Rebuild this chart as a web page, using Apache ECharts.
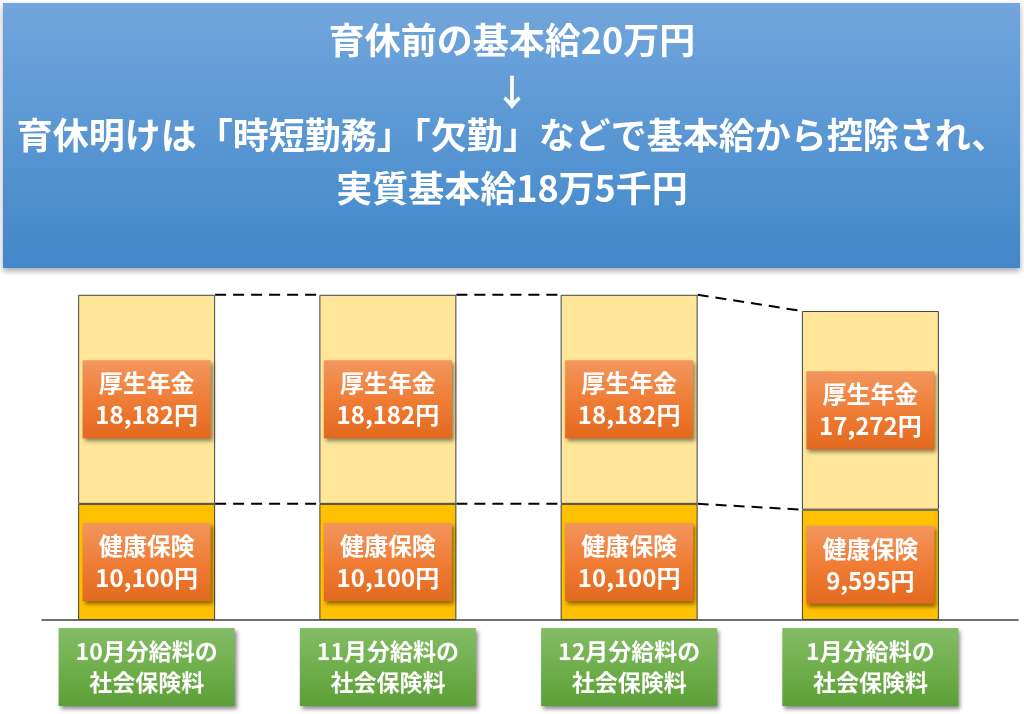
<!DOCTYPE html>
<html>
<head>
<meta charset="utf-8">
<script src="https://cdn.jsdelivr.net/npm/echarts@6/dist/echarts.min.js"></script>
<style>
  html, body { margin: 0; padding: 0; background: #fff; }
  #main { width: 1024px; height: 714px; }
</style>
</head>
<body>
<div id="main"></div>
<script>
// データ
var categories = ['10月分給料の\n社会保険料', '11月分給料の\n社会保険料', '12月分給料の\n社会保険料', '1月分給料の\n社会保険料'];
var healthValues = [10100, 10100, 10100, 9595];   // 健康保険
var pensionValues = [18182, 18182, 18182, 17272]; // 厚生年金
var headingLines = ['育休前の基本給20万円', '↓', '育休明けは「時短勤務」「欠勤」などで基本給から控除され、', '実質基本給18万5千円'];

var FONT = '"Noto Sans CJK JP", "Noto Sans", sans-serif';
var BAR_W = 137;

function yen(v) {
    return String(v).replace(/\B(?=(\d{3})+(?!\d))/g, ',') + '円';
}

// 破線用のデータ（隣の棒とつなぐ）
var linkData = [];
for (var i = 0; i < categories.length - 1; i++) {
    linkData.push([i, healthValues[i] + pensionValues[i], healthValues[i + 1] + pensionValues[i + 1], healthValues[i], healthValues[i + 1]]);
}

var orangeBox = {
    type: 'linear', x: 0, y: 0, x2: 0, y2: 1,
    colorStops: [{offset: 0, color: '#f3965e'}, {offset: 0.55, color: '#ef7b33'}, {offset: 1, color: '#e2691f'}]
};
var greenBox = {
    type: 'linear', x: 0, y: 0, x2: 0, y2: 1,
    colorStops: [{offset: 0, color: '#84bc67'}, {offset: 0.55, color: '#6eae4a'}, {offset: 1, color: '#5c9e37'}]
};

function boxLabel(name) {
    return {
        show: true,
        position: 'inside',
        formatter: function (p) { return name + '\n' + yen(p.value); },
        color: '#fff',
        fontFamily: FONT,
        fontWeight: 'bold',
        fontSize: 24,
        lineHeight: 32,
        width: 128,
        padding: [7, 0],
        backgroundColor: orangeBox,
        shadowColor: 'rgba(0,0,0,0.45)',
        shadowBlur: 4,
        shadowOffsetX: 2,
        shadowOffsetY: 3
    };
}

var myChart = echarts.init(document.getElementById('main'));

var headingY = [40, 92, 135, 188];
var graphics = [{
    type: 'rect',
    shape: {x: 3, y: 3, width: 1017, height: 265},
    style: {
        fill: {type: 'linear', x: 0, y: 0, x2: 0, y2: 1,
            colorStops: [{offset: 0, color: '#72a6dc'}, {offset: 1, color: '#4187ca'}]},
        shadowBlur: 6,
        shadowColor: 'rgba(0,0,0,0.35)',
        shadowOffsetY: 3
    }
}];
headingLines.forEach(function (t, k) {
    graphics.push({
        type: 'text',
        x: 512,
        y: headingY[k],
        style: {
            text: t,
            fill: '#fff',
            font: 'bold 36px ' + FONT,
            align: 'center',
            verticalAlign: 'middle'
        }
    });
});

var option = {
    animation: false,
    graphic: graphics,
    grid: [
        {left: 26, right: 33, top: 275, bottom: 94},
        {left: 42, right: 6, top: 275, bottom: 94}
    ],
    xAxis: [{
        type: 'category',
        gridIndex: 0,
        data: categories,
        axisLine: {show: false},
        axisTick: {show: false},
        axisLabel: {
            margin: 8,
            color: '#fff',
            fontFamily: FONT,
            fontWeight: 'bold',
            fontSize: 23,
            lineHeight: 31,
            width: 176,
            padding: [8, 0],
            backgroundColor: greenBox,
            shadowColor: 'rgba(0,0,0,0.45)',
            shadowBlur: 4,
            shadowOffsetX: 2,
            shadowOffsetY: 3
        }
    }, {
        type: 'value',
        gridIndex: 1,
        axisLine: {show: true, lineStyle: {color: '#404040', width: 1.5}},
        axisTick: {show: false},
        axisLabel: {show: false},
        splitLine: {show: false}
    }],
    yAxis: [{
        type: 'value',
        gridIndex: 0,
        min: 0,
        max: 30000,
        show: false
    }, {
        type: 'value',
        gridIndex: 1,
        show: false
    }],
    series: [{
        name: '健康保険',
        type: 'bar',
        stack: 'total',
        barWidth: BAR_W,
        data: healthValues,
        itemStyle: {color: '#ffc000', borderColor: '#404040', borderWidth: 1},
        label: boxLabel('健康保険')
    }, {
        name: '厚生年金',
        type: 'bar',
        stack: 'total',
        barWidth: BAR_W,
        data: pensionValues,
        itemStyle: {color: '#ffe699', borderColor: '#404040', borderWidth: 1},
        label: boxLabel('厚生年金')
    }, {
        type: 'custom',
        data: linkData,
        encode: {x: 0, y: 1},
        renderItem: function (params, api) {
            var i = api.value(0);
            var half = BAR_W / 2;
            var a1 = api.coord([i, api.value(1)]);
            var b1 = api.coord([i + 1, api.value(2)]);
            var a2 = api.coord([i, api.value(3)]);
            var b2 = api.coord([i + 1, api.value(4)]);
            var st = {stroke: '#000', lineWidth: 2, lineDash: [11, 7]};
            return {
                type: 'group',
                children: [
                    {type: 'line', shape: {x1: a1[0] + half, y1: a1[1], x2: b1[0] - half, y2: b1[1]}, style: st},
                    {type: 'line', shape: {x1: a2[0] + half, y1: a2[1], x2: b2[0] - half, y2: b2[1]}, style: st}
                ]
            };
        }
    }]
};

myChart.setOption(option);
</script>
</body>
</html>
